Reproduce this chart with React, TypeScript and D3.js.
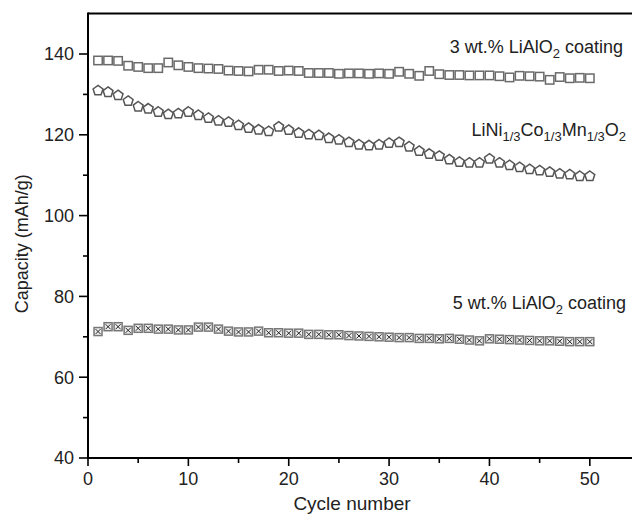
import React from "react";
import * as d3 from "d3";

const cycles = d3.range(1, 51);

const coated3 = [
  138.4, 138.4, 138.3, 137.1, 136.8, 136.5, 136.5, 137.9, 137.2, 136.8,
  136.5, 136.4, 136.3, 135.9, 135.8, 135.7, 136.1, 136.1, 135.8, 135.9,
  135.8, 135.3, 135.3, 135.3, 135.1, 135.2, 135.2, 135.1, 135.2, 135.1,
  135.6, 135.1, 134.6, 135.8, 135.0, 134.8, 134.8, 134.7, 134.7, 134.7,
  134.5, 134.2, 134.6, 134.5, 134.4, 133.6, 134.3, 134.0, 134.1, 134.0,
];

const bare = [
  131.1, 130.7, 129.9, 128.5, 127.1, 126.6, 125.8, 125.2, 125.4, 125.8,
  125.0, 124.3, 123.6, 123.3, 122.5, 121.8, 121.4, 121.0, 122.1, 121.3,
  120.6, 120.2, 120.0, 119.3, 118.9, 118.3, 117.7, 117.5, 117.7, 118.1,
  118.3, 117.2, 116.1, 115.4, 114.9, 114.0, 113.4, 113.2, 113.2, 114.2,
  113.2, 112.6, 112.1, 111.6, 111.3, 110.9, 110.5, 110.3, 109.9, 109.9,
];

const coated5 = [
  71.3, 72.5, 72.5, 71.6, 72.1, 72.1, 71.9, 71.9, 71.7, 71.7,
  72.4, 72.4, 71.9, 71.4, 71.2, 71.2, 71.4, 71.0, 71.0, 70.9,
  70.9, 70.6, 70.6, 70.5, 70.5, 70.3, 70.2, 70.1, 70.0, 69.9,
  69.8, 69.8, 69.6, 69.6, 69.5, 69.6, 69.4, 69.2, 69.0, 69.5,
  69.4, 69.3, 69.2, 69.1, 69.0, 69.0, 68.9, 68.8, 68.8, 68.8,
];

const xMajor = [0, 10, 20, 30, 40, 50];
const xMinor = [5, 15, 25, 35, 45];
const yMajor = [40, 60, 80, 100, 120, 140];
const yMinor = [50, 70, 90, 110, 130];

const font = "'Liberation Sans', Arial, sans-serif";

function pentagon(r: number) {
  const pts = d3.range(5).map((k) => {
    const a = ((-90 + k * 72) * Math.PI) / 180;
    return [r * Math.cos(a), r * Math.sin(a)];
  });
  return "M" + pts.map((p) => p.join(",")).join("L") + "Z";
}

export default function App() {
  const width = 632;
  const height = 515;
  const x = d3.scaleLinear().domain([0, 55]).range([88, 640]);
  const y = d3.scaleLinear().domain([40, 150]).range([458, 13.6]);
  const pent = pentagon(5.2);

  return (
    <svg
      width={width}
      height={height}
      style={{ position: "absolute", left: 0, top: 0, background: "#fff" }}
      fontFamily={font}
    >
      {/* frame */}
      <line x1={x(0)} x2={width} y1={y(150)} y2={y(150)} stroke="#000" strokeWidth={2} />
      <line x1={x(0)} x2={x(0)} y1={y(150) - 1} y2={y(40) + 1} stroke="#000" strokeWidth={2} />
      <line x1={x(0) - 1} x2={width} y1={y(40)} y2={y(40)} stroke="#000" strokeWidth={2} />

      {/* y ticks */}
      {yMajor.map((v) => (
        <g key={"ym" + v}>
          <line x1={x(0) - 9} x2={x(0)} y1={y(v)} y2={y(v)} stroke="#000" strokeWidth={1.6} />
          <text x={x(0) - 14} y={y(v)} dy="0.36em" textAnchor="end" fontSize={18} fill="#222">
            {v}
          </text>
        </g>
      ))}
      {yMinor.map((v) => (
        <line key={"yn" + v} x1={x(0) - 5} x2={x(0)} y1={y(v)} y2={y(v)} stroke="#000" strokeWidth={1.6} />
      ))}

      {/* x ticks */}
      {xMajor.map((v) => (
        <g key={"xm" + v}>
          <line x1={x(v)} x2={x(v)} y1={y(40)} y2={y(40) + 8} stroke="#000" strokeWidth={1.6} />
          <text x={x(v)} y={y(40) + 27} textAnchor="middle" fontSize={18} fill="#222">
            {v}
          </text>
        </g>
      ))}
      {xMinor.map((v) => (
        <line key={"xn" + v} x1={x(v)} x2={x(v)} y1={y(40)} y2={y(40) + 5} stroke="#000" strokeWidth={1.6} />
      ))}

      {/* axis titles */}
      <text x={352} y={510} textAnchor="middle" fontSize={19} fill="#222">
        Cycle number
      </text>
      <text
        transform={`translate(28,${(y(40) + y(150)) / 2 + 8}) rotate(-90)`}
        textAnchor="middle"
        fontSize={18}
        fill="#222"
      >
        Capacity (mAh/g)
      </text>

      {/* 3 wt.% squares */}
      {cycles.map((c, i) => (
        <rect
          key={"s" + c}
          x={x(c) - 4.2}
          y={y(coated3[i]) - 4.2}
          width={8.4}
          height={8.4}
          fill="#fff"
          stroke="#6a6a6a"
          strokeWidth={1.5}
        />
      ))}

      {/* bare pentagons */}
      {cycles.map((c, i) => (
        <path
          key={"p" + c}
          d={pent}
          transform={`translate(${x(c)},${y(bare[i]) + 0.6})`}
          fill="#fff"
          stroke="#555"
          strokeWidth={1.5}
        />
      ))}

      {/* 5 wt.% crossed squares */}
      {cycles.map((c, i) => {
        const cx = x(c);
        const cy = y(coated5[i]);
        const h = 4;
        return (
          <g key={"c" + c}>
            <rect x={cx - h} y={cy - h} width={2 * h} height={2 * h} fill="#eee" stroke="#777" strokeWidth={1.5} />
            <path
              d={`M${cx - h + 1.5},${cy - h + 1.5}L${cx + h - 1.5},${cy + h - 1.5}M${cx + h - 1.5},${cy - h + 1.5}L${cx - h + 1.5},${cy + h - 1.5}`}
              stroke="#222"
              strokeWidth={1}
            />
          </g>
        );
      })}

      {/* labels */}
      <text x={623} y={53} textAnchor="end" fontSize={18} fill="#222">
        3 wt.% LiAlO
        <tspan dy={5} fontSize={13}>2</tspan>
        <tspan dy={-5}> coating</tspan>
      </text>
      <text x={626} y={136} textAnchor="end" fontSize={18} fill="#222">
        LiNi
        <tspan dy={5} fontSize={13}>1/3</tspan>
        <tspan dy={-5}>Co</tspan>
        <tspan dy={5} fontSize={13}>1/3</tspan>
        <tspan dy={-5}>Mn</tspan>
        <tspan dy={5} fontSize={13}>1/3</tspan>
        <tspan dy={-5}>O</tspan>
        <tspan dy={5} fontSize={13}>2</tspan>
      </text>
      <text x={626} y={309} textAnchor="end" fontSize={18} fill="#222">
        5 wt.% LiAlO
        <tspan dy={5} fontSize={13}>2</tspan>
        <tspan dy={-5}> coating</tspan>
      </text>
    </svg>
  );
}
